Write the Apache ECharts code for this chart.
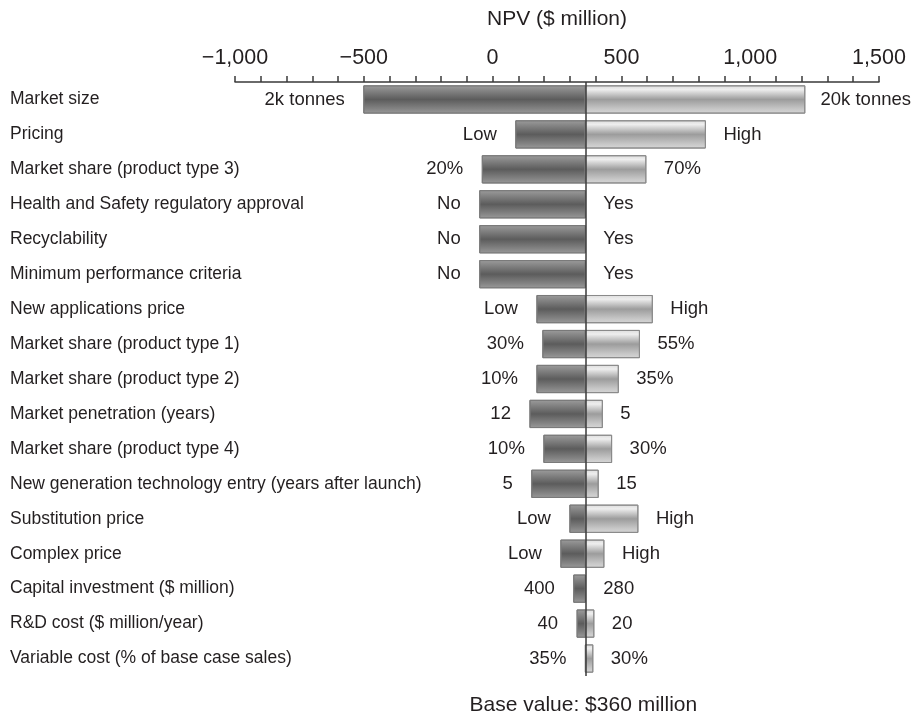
<!DOCTYPE html>
<html>
<head>
<meta charset="utf-8">
<script src="https://cdn.jsdelivr.net/npm/echarts@6/dist/echarts.min.js"></script>
<style>
  html, body { margin: 0; padding: 0; background: #fff; }
  #chart { width: 913px; height: 716px; }
</style>
</head>
<body>
<div id="chart"></div>
<script>
// Tornado chart: NPV sensitivity around the base case
const baseValue = 360;

const categories = [
  'Market size',
  'Pricing',
  'Market share (product type 3)',
  'Health and Safety regulatory approval',
  'Recyclability',
  'Minimum performance criteria',
  'New applications price',
  'Market share (product type 1)',
  'Market share (product type 2)',
  'Market penetration (years)',
  'Market share (product type 4)',
  'New generation technology entry (years after launch)',
  'Substitution price',
  'Complex price',
  'Capital investment ($ million)',
  'R&D cost ($ million/year)',
  'Variable cost (% of base case sales)'
];

// NPV when the driver is at its downside / upside setting
const lowNpv  = [-500, 90, -40, -50, -50, -50, 172, 195, 172, 145, 199, 152, 300, 265, 315, 328, 360];
const highNpv = [1212, 826, 595, 360, 360, 360, 620, 570, 488, 426, 462, 410, 564, 432, 360, 393, 389];

const lowLabels  = ['2k tonnes', 'Low', '20%', 'No', 'No', 'No', 'Low', '30%', '10%', '12', '10%', '5', 'Low', 'Low', '400', '40', '35%'];
const highLabels = ['20k tonnes', 'High', '70%', 'Yes', 'Yes', 'Yes', 'High', '55%', '35%', '5', '30%', '15', 'High', 'High', '280', '20', '30%'];

const xTicks = { min: -1000, max: 1500, step: 500 };

const FONT = 'Liberation Sans, Arial, Helvetica, sans-serif';
const TEXT = '#231f20';
const CHART_W = 913;
const VALUE_FS = 18.5;

const chart = echarts.init(document.getElementById('chart'), null, { renderer: 'canvas' });

const measureCtx = document.createElement('canvas').getContext('2d');
function textWidth(str, size) {
  measureCtx.font = size + 'px ' + FONT;
  return measureCtx.measureText(str).width;
}

function fmtTick(v) {
  const abs = Math.abs(v).toLocaleString('en-US');
  return v < 0 ? '\u2212' + abs : abs;
}

const darkFill = new echarts.graphic.LinearGradient(0, 0, 0, 1, [
  { offset: 0, color: '#9c9c9c' },
  { offset: 0.18, color: '#858585' },
  { offset: 0.5, color: '#5c5c5c' },
  { offset: 0.82, color: '#828282' },
  { offset: 1, color: '#9a9a9a' }
]);
const lightFill = new echarts.graphic.LinearGradient(0, 0, 0, 1, [
  { offset: 0, color: '#dcdcdc' },
  { offset: 0.15, color: '#eeeeee' },
  { offset: 0.5, color: '#9c9c9c' },
  { offset: 0.85, color: '#c8c8c8' },
  { offset: 1, color: '#d6d6d6' }
]);

const rows = categories.map((c, i) => [i, lowNpv[i], highNpv[i]]);

function renderRow(params, api) {
  const idx = api.value(0);
  const lo = api.value(1);
  const hi = api.value(2);
  const bandH = api.size([0, 1])[1];
  const h = bandH * 0.78;
  const pBase = api.coord([baseValue, idx]);
  const pLo = api.coord([lo, idx]);
  const pHi = api.coord([hi, idx]);
  const y = pBase[1];
  const children = [];

  if (pBase[0] - pLo[0] > 0.5) {
    children.push({
      type: 'rect',
      shape: { x: pLo[0], y: y - h / 2, width: pBase[0] - pLo[0], height: h },
      style: { fill: darkFill, stroke: '#7a7a7a', lineWidth: 1 }
    });
  }
  if (pHi[0] - pBase[0] > 0.5) {
    children.push({
      type: 'rect',
      shape: { x: pBase[0], y: y - h / 2, width: pHi[0] - pBase[0], height: h },
      style: { fill: lightFill, stroke: '#8a8a8a', lineWidth: 1 }
    });
  }

  const loText = lowLabels[idx];
  const hiText = highLabels[idx];
  children.push({
    type: 'text',
    style: {
      text: loText, x: Math.min(pLo[0], pBase[0]) - 19, y: y,
      align: 'right', verticalAlign: 'middle',
      font: VALUE_FS + 'px ' + FONT, fill: TEXT
    }
  });
  let hx = Math.max(pHi[0], pBase[0]) + 18;
  let hAlign = 'left';
  if (hx + textWidth(hiText, VALUE_FS) > CHART_W - 2) {
    hx = CHART_W - 2;
    hAlign = 'right';
  }
  children.push({
    type: 'text',
    style: {
      text: hiText, x: hx, y: y,
      align: hAlign, verticalAlign: 'middle',
      font: VALUE_FS + 'px ' + FONT, fill: TEXT
    }
  });
  return { type: 'group', children: children };
}

const option = {
  animation: false,
  backgroundColor: '#ffffff',
  grid: { left: 235, right: 34, top: 82, bottom: 40 },
  xAxis: {
    type: 'value',
    position: 'top',
    min: xTicks.min,
    max: xTicks.max,
    interval: xTicks.step,
    name: 'NPV ($ million)',
    nameLocation: 'middle',
    nameGap: 52,
    nameTextStyle: { fontFamily: FONT, fontSize: 21, color: TEXT },
    axisLine: { show: true, onZero: false, lineStyle: { color: '#3a3a3a', width: 1.5 } },
    axisTick: { show: true, length: 6, lineStyle: { color: '#3a3a3a', width: 1.5 } },
    minorTick: { show: true, splitNumber: 5, length: 6, lineStyle: { color: '#3a3a3a', width: 1.5 } },
    axisLabel: {
      margin: 13,
      fontFamily: FONT, fontSize: 21.5, color: TEXT,
      formatter: fmtTick
    },
    splitLine: { show: false }
  },
  yAxis: {
    type: 'category',
    data: categories,
    inverse: true,
    axisLine: { show: false },
    axisTick: { show: false },
    splitLine: { show: false },
    axisLabel: {
      align: 'left',
      margin: 225,
      fontFamily: FONT, fontSize: 17.5, color: TEXT
    }
  },
  series: [
    {
      type: 'custom',
      renderItem: renderRow,
      data: rows,
      encode: { x: [1, 2], y: 0 },
      clip: false,
      markLine: {
        silent: true,
        symbol: 'none',
        label: { show: false },
        lineStyle: { color: '#3a3a3a', width: 1.5, type: 'solid' },
        data: [{ xAxis: baseValue }]
      },
      z: 2
    }
  ]
};

chart.setOption(option);

// Caption placed under the base-case line
const baseX = chart.convertToPixel({ xAxisIndex: 0 }, baseValue);
chart.setOption({
  graphic: [{
    type: 'text',
    x: baseX - 2,
    y: 705,
    style: {
      text: 'Base value: $' + baseValue + ' million',
      align: 'center', verticalAlign: 'middle',
      font: '21px ' + FONT, fill: TEXT
    }
  }]
});
</script>
</body>
</html>
